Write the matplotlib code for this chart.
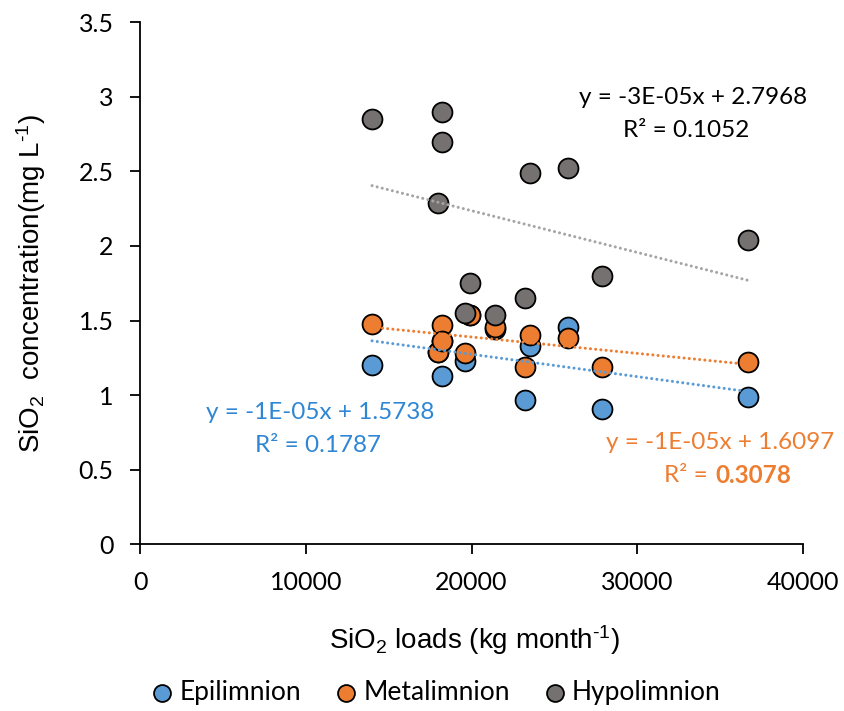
import numpy as np
import matplotlib.pyplot as plt
from matplotlib.ticker import FuncFormatter

plt.rcParams['mathtext.fontset'] = 'custom'
plt.rcParams['mathtext.rm'] = 'Liberation Sans'
plt.rcParams['mathtext.it'] = 'Liberation Sans:italic'

# monthly SiO2 loads (kg month-1) and concentrations per layer (mg L-1)
loads = [14000, 17950, 18200, 18200, 19600, 19900, 21400, 23250, 23500, 25800, 27850, 36700]
epilimnion = [1.20, 1.29, 1.13, 1.36, 1.23, 1.54, 1.44, 0.97, 1.33, 1.46, 0.91, 0.99]
metalimnion = [1.48, 1.29, 1.47, 1.36, 1.28, 1.54, 1.46, 1.19, 1.40, 1.38, 1.19, 1.22]
hypolimnion = [2.85, 2.29, 2.90, 2.70, 1.55, 1.75, 1.54, 1.65, 2.49, 2.52, 1.80, 2.04]

# linear trendlines (slope, intercept) as drawn
trend_slope = [-1.5e-05, -1.1e-05, -2.8e-05]
trend_icept = [1.5738, 1.6097, 2.7968]

names = ["Epilimnion", "Metalimnion", "Hypolimnion"]
marker_cols = ["#5B9BD5", "#ED7D31", "#767171"]
line_cols = ["#5B9BD5", "#ED7D31", "#A5A5A5"]

fig = plt.figure(figsize=(8.45, 7.11), dpi=100)
ax = fig.add_axes([0.1657, 0.2346, 0.7846, 0.734])

x = np.array(loads, dtype=float)
for ys, name, mc in zip([epilimnion, metalimnion, hypolimnion], names, marker_cols):
    ax.scatter(x, ys, s=205, color=mc, edgecolor="black", linewidth=1.3, zorder=2, label=name)

xx = np.array([x.min(), x.max()])
for m, b, lc in zip(trend_slope, trend_icept, line_cols):
    ax.plot(xx, m * xx + b, color=lc, lw=2.2, linestyle=(0, (0.01, 1.7)),
            dash_capstyle="round", zorder=3)

eqfont = dict(family="Lato", fontsize=17.5, ha="center", va="center")
ax.text(33363, 2.993, "y = -3E-05x + 2.7968", color="black", **eqfont)
ax.text(32941, 2.777, "R² = 0.1052", color="black", **eqfont)
ax.text(10860, 0.880, "y = -1E-05x + 1.5738", color="#2E86D4", **eqfont)
ax.text(10739, 0.665, "R² = 0.1787", color="#2E86D4", **eqfont)
ax.text(34992, 0.685, "y = -1E-05x + 1.6097", color="#ED7D31", **eqfont)
r2 = ax.text(34268, 0.464, "R² =", color="#ED7D31", family="Lato", fontsize=17.5,
             ha="right", va="center")
ax.annotate("0.3078", xy=(1, 0.5), xycoords=r2, xytext=(5, 0), textcoords="offset points",
            color="#ED7D31", family="Lato", fontsize=17.5, ha="left", va="center",
            fontweight="bold")

ax.set_xlim(0, 40000)
ax.set_ylim(0, 3.5)
ax.set_xticks([0, 10000, 20000, 30000, 40000])
ax.set_yticks(np.arange(0, 3.51, 0.5))
ax.yaxis.set_major_formatter(FuncFormatter(lambda v, _: f"{v:g}"))
for lab in ax.get_xticklabels() + ax.get_yticklabels():
    lab.set_family("Lato")
    lab.set_fontsize(18)
ax.tick_params(axis="x", length=7, width=1.3, pad=12)
ax.tick_params(axis="y", length=7, width=1.3, pad=12)
for s in ["top", "right"]:
    ax.spines[s].set_visible(False)
for s in ["left", "bottom"]:
    ax.spines[s].set_linewidth(1.3)

ax.set_xlabel(r"SiO$_2$ loads (kg month$^{\text{-1}}$)", family="Liberation Sans", fontsize=20, va="center")
ax.xaxis.set_label_coords(0.5045, -0.1836)
ax.set_ylabel(r"SiO$_2$  concentration(mg L$^{\text{-1}}$)", family="Liberation Sans", fontsize=20, va="center")
ax.yaxis.set_label_coords(-0.1644, 0.5)

fig.legend(loc="center", bbox_to_anchor=(0.513, 0.026), ncol=3, frameon=False,
           prop={"family": "Lato", "size": 19}, handletextpad=0.05, columnspacing=1.1,
           markerscale=0.85, borderaxespad=0, handlelength=1.2)

fig.savefig("out.png", dpi=100)
